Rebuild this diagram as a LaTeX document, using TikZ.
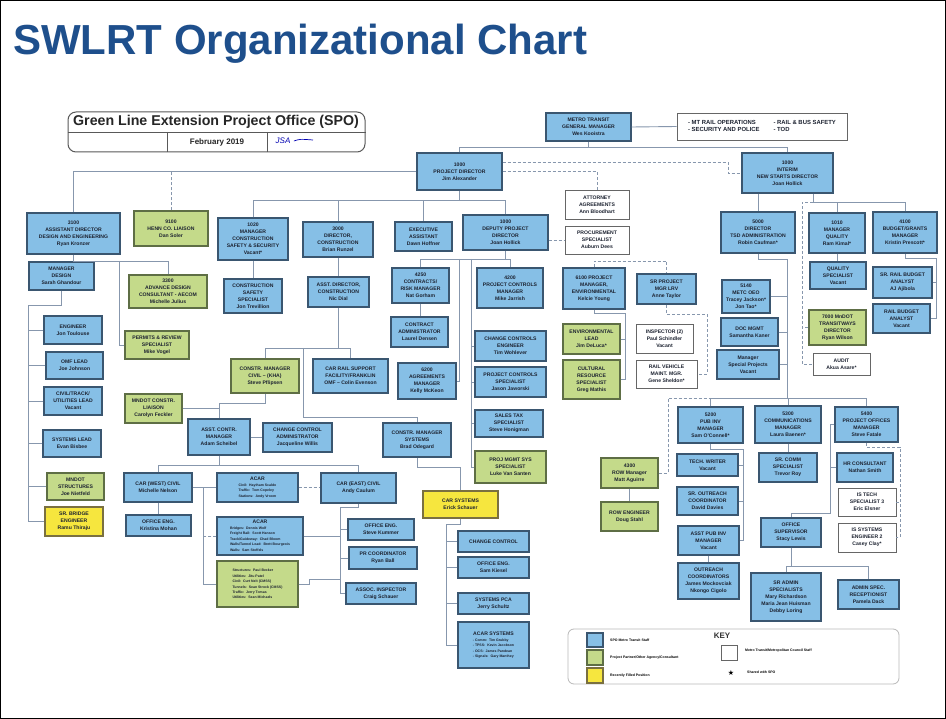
\documentclass[tikz,border=0pt]{standalone}
\usepackage{fontspec}
\setmainfont{Liberation Sans}
\newfontfamily\djv{DejaVu Sans}
\definecolor{blueF}{HTML}{86BFE6}
\definecolor{blueD}{HTML}{3A5670}
\definecolor{greenF}{HTML}{C4DA8A}
\definecolor{greenD}{HTML}{5E6E45}
\definecolor{yellowF}{HTML}{F6E63E}
\definecolor{yellowD}{HTML}{7A7040}
\definecolor{lineC}{HTML}{8797AD}
\definecolor{titleC}{HTML}{1E4F8C}
\definecolor{txtC}{HTML}{1C2230}
\newcommand\boxfont{\fontsize{5.1}{6.9}\selectfont\bfseries}
\newcommand\smallfont{\fontsize{3.5}{4.5}\selectfont\bfseries}
\newcommand\OB[7]{\node[#2, minimum width={(#5-#3)*1pt}, minimum height={(#6-#4)*1pt}] (#1) at ({(#3+#5)/2},{(#4+#6)/2}) {#7};}
\begin{document}
\begin{tikzpicture}[x=1pt,y=-1pt,
  base/.style={align=center, inner sep=0.5pt, font=\boxfont, text=txtC, line width=1.1pt},
  bl/.style={base, fill=blueF, draw=blueD},
  gr/.style={base, fill=greenF, draw=greenD},
  ye/.style={base, fill=yellowF, draw=yellowD},
  wh/.style={base, fill=white, draw=gray!80!black, line width=0.8pt},
  sm/.style={font=\smallfont},
  lnk/.style={draw=lineC, line width=0.9pt},
  dsh/.style={draw=lineC, line width=0.9pt, dash pattern=on 3pt off 2pt}]
\useasboundingbox (0,0) rectangle (946,719);
\fill[white] (0,0) rectangle (946,719);
\draw[black, line width=1pt] (0.5,0.5) rectangle (945.5,718.5);
\node[anchor=base west, font=\fontsize{42}{46}\selectfont\bfseries, text=titleC, inner sep=0] (title) at (13,55) {SWLRT Organizational Chart};

% header box
\node[draw=gray!70!black, line width=1pt, rounded corners=8pt, minimum width=297pt, minimum height=40pt] (hdr) at (216.5,132) {};
\draw[gray!70!black, line width=0.8pt] (hdr.west |- 0,132) -- (hdr.east |- 0,132);
\draw[gray!70!black, line width=0.8pt] (167,132) -- (167,152) (267,132) -- (267,152);
\node[font=\fontsize{14.2}{16}\selectfont\bfseries, text=black!85] (hdrt) at (216,122) {Green Line Extension Project Office (SPO)};
\node[font=\fontsize{8}{9}\selectfont\bfseries, text=black!85] (feb) at (217,142) {February 2019};
\node[font=\fontsize{8}{9}\selectfont\itshape, text=blue!70!black] (sig) at (283,141) {JSA};
\draw[blue!70!black, line width=0.7pt] (sig.east) .. controls (300,139) .. (313,140);

% boxes
\OB{gm}{bl}{546}{113}{631}{141}{METRO TRANSIT\\GENERAL MANAGER\\Wes Kooistra}
\node[wh, minimum width=170pt, minimum height=27pt, font=\fontsize{5.9}{7.2}\selectfont\bfseries] (resp) at (762,126.5) {\begin{tabular}{@{}l@{\hspace{14pt}}l@{}}- MT RAIL OPERATIONS & - RAIL \& BUS SAFETY\\- SECURITY AND POLICE & - TOD\end{tabular}};
\OB{pd}{bl}{417}{153}{502}{190}{1000\\PROJECT DIRECTOR\\Jim Alexander}
\OB{ns}{bl}{742}{153}{833}{193}{1000\\INTERIM\\NEW STARTS DIRECTOR\\Joan Hollick}
\OB{att}{wh}{565}{190}{629}{219}{ATTORNEY\\AGREEMENTS\\Ann Bloodhart}
\OB{proc}{wh}{565}{226}{629}{254}{PROCUREMENT\\SPECIALIST\\Auburn Dees}
\OB{add}{bl}{27}{213}{120}{254}{3100\\ASSISTANT DIRECTOR\\DESIGN AND ENGINEERING\\Ryan Kronzer}
\OB{henn}{gr}{134}{211}{208}{246}{9100\\HENN CO. LIAISON\\Dan Soler}
\OB{mcs}{bl}{218}{218}{288}{260}{1020\\MANAGER\\CONSTRUCTION\\SAFETY \& SECURITY\\Vacant*}
\OB{dc}{bl}{303}{222}{373}{257}{3000\\DIRECTOR,\\CONSTRUCTION\\Brian Runzel}
\OB{ea}{bl}{395}{222}{452}{251}{EXECUTIVE\\ASSISTANT\\Dawn Hoffner}
\OB{dpd}{bl}{463}{215}{548}{250}{1000\\DEPUTY PROJECT\\DIRECTOR\\Joan Hollick}
\OB{md}{bl}{29}{262}{94}{290}{MANAGER\\DESIGN\\Sarah Ghandour}
\OB{adc}{gr}{129}{275}{207}{308}{3300\\ADVANCE DESIGN\\CONSULTANT - AECOM\\Michelle Julius}
\OB{perm}{gr}{125}{331}{189}{359}{PERMITS \& REVIEW\\SPECIALIST\\Mike Vogel}
\OB{css}{bl}{224}{279}{282}{313}{CONSTRUCTION\\SAFETY\\SPECIALIST\\Jon Trevillion}
\OB{adcon}{bl}{308}{277}{369}{307}{ASST. DIRECTOR,\\CONSTRUCTION\\Nic Dial}
\OB{eng}{bl}{44}{316}{102}{344}{ENGINEER\\Jon Toulouse}
\OB{omf}{bl}{46}{352}{103}{379}{OMF LEAD\\Joe Johnson}
\OB{ctu}{bl}{44}{387}{102}{415}{CIVIL/TRACK/\\UTILITIES LEAD\\Vacant}
\OB{sys}{bl}{43}{430}{101}{457}{SYSTEMS LEAD\\Evan Bisbee}
\OB{mnst}{gr}{47}{473}{104}{500}{MNDOT\\STRUCTURES\\Joe Nietfeld}
\OB{srb}{ye}{45}{507}{103}{536}{SR. BRIDGE\\ENGINEER\\Ramu Thiraju}
\OB{cmc}{gr}{231}{359}{299}{393}{CONSTR. MANAGER\\CIVIL -- (KHA)\\Steve Pflipsen}
\OB{crs}{bl}{313}{359}{388}{393}{CAR RAIL SUPPORT\\FACILITY/FRANKLIN\\OMF -- Colin Evenson}
\OB{crm}{bl}{392}{268}{449}{303}{4250\\CONTRACTS/\\RISK MANAGER\\Nat Gorham}
\OB{cadm}{bl}{391}{317}{448}{347}{CONTRACT\\ADMINISTRATOR\\Laurel Densen}
\OB{agr}{bl}{398}{363}{456}{399}{6200\\AGREEMENTS\\MANAGER\\Kelly McKeon}
\OB{pcm}{bl}{477}{268}{543}{308}{4200\\PROJECT CONTROLS\\MANAGER\\Mike Jarrish}
\OB{cce}{bl}{475}{331}{546}{361}{CHANGE CONTROLS\\ENGINEER\\Tim Wohlever}
\OB{pcs}{bl}{475}{367}{546}{397}{PROJECT CONTROLS\\SPECIALIST\\Jason Jaworski}
\OB{stx}{bl}{475}{410}{543}{437}{SALES TAX\\SPECIALIST\\Steve Honigman}
\OB{pms}{gr}{475}{451}{546}{483}{PROJ MGMT SYS\\SPECIALIST\\Luke Van Santen}
\OB{envm}{bl}{563}{268}{625}{309}{6100 PROJECT\\MANAGER,\\ENVIRONMENTAL\\Kelcie Young}
\OB{srpm}{bl}{637}{274}{696}{304}{SR PROJECT\\MGR LRV\\Anne Taylor}
\OB{insp}{wh}{636}{324}{693}{353}{INSPECTOR (2)\\Paul Schindler\\Vacant}
\OB{rvm}{wh}{636}{360}{697}{388}{RAIL VEHICLE\\MAINT. MGR.\\Gene Sheldon*}
\OB{envl}{gr}{563}{324}{620}{354}{ENVIRONMENTAL\\LEAD\\Jim DeLuca*}
\OB{cult}{gr}{563}{360}{620}{399}{CULTURAL\\RESOURCE\\SPECIALIST\\Greg Mathis}
\OB{tsd}{bl}{721}{212}{795}{253}{5000\\DIRECTOR\\TSD ADMINISTRATION\\Robin Caufman*}
\OB{qual}{bl}{809}{213}{865}{253}{1010\\MANAGER\\QUALITY\\Ram Kimal*}
\OB{bud}{bl}{873}{212}{937}{253}{4100\\BUDGET/GRANTS\\MANAGER\\Kristin Prescott*}
\OB{qs}{bl}{810}{262}{866}{289}{QUALITY\\SPECIALIST\\Vacant}
\OB{srba}{bl}{873}{267}{932}{298}{SR. RAIL BUDGET\\ANALYST\\AJ Ajibola}
\OB{rba}{bl}{873}{304}{930}{333}{RAIL BUDGET\\ANALYST\\Vacant}
\OB{mndot}{gr}{809}{310}{866}{345}{7000 MnDOT\\TRANSITWAYS\\DIRECTOR\\Ryan Wilson}
\OB{audit}{wh}{813}{353}{870}{375}{AUDIT\\Akua Asare*}
\OB{oeo}{bl}{722}{280}{770}{313}{5140\\METC OEO\\Tracey Jackson*\\Jon Tao*}
\OB{doc}{bl}{721}{318}{778}{346}{DOC MGMT\\Samantha Kaner}
\OB{msp}{bl}{717}{350}{779}{379}{Manager\\Special Projects\\Vacant}
\OB{pa}{bl}{678}{407}{743}{443}{5200\\PUB INV\\MANAGER\\Sam O'Connell*}
\OB{pb}{bl}{755}{406}{821}{443}{5300\\COMMUNICATIONS\\MANAGER\\Laura Baenen*}
\OB{pc}{bl}{835}{407}{898}{442}{5400\\PROJECT OFFICES\\MANAGER\\Steve Fatale}
\OB{scs}{bl}{759}{453}{817}{482}{SR. COMM\\SPECIALIST\\Trevor Roy}
\OB{hr}{bl}{837}{453}{893}{482}{HR CONSULTANT\\Nathan Smith}
\OB{ist}{wh}{838}{488}{896}{516}{IS TECH\\SPECIALIST 3\\Eric Elsner}
\OB{ise}{wh}{838}{523}{896}{552}{IS SYSTEMS\\ENGINEER 2\\Casey Clay*}
\OB{osup}{bl}{761}{518}{821}{547}{OFFICE\\SUPERVISOR\\Stacy Lewis}
\OB{sra}{bl}{751}{573}{821}{621}{SR ADMIN\\SPECIALISTS\\Mary Richardson\\Maria Jean Huisman\\Debby Loring}
\OB{asr}{bl}{838}{580}{899}{609}{ADMIN SPEC.\\RECEPTIONIST\\Pamela Dack}
\OB{tw}{bl}{677}{454}{738}{476}{TECH. WRITER\\Vacant}
\OB{sro}{bl}{677}{487}{738}{515}{SR. OUTREACH\\COORDINATOR\\David Davies}
\OB{apim}{bl}{678}{526}{739}{555}{ASST PUB INV\\MANAGER\\Vacant}
\OB{oc}{bl}{678}{563}{739}{599}{OUTREACH\\COORDINATORS\\James Mockovciak\\Nkongo Cigolo}
\OB{row}{gr}{601}{458}{658}{488}{4300\\ROW Manager\\Matt Aguirre}
\OB{rowe}{gr}{601}{502}{658}{531}{ROW ENGINEER\\Doug Stahl}
\OB{mcl}{gr}{125}{394}{182}{423}{MNDOT CONSTR.\\LIAISON\\Carolyn Feckler}
\OB{acm}{bl}{188}{419}{250}{455}{ASST. CONTR.\\MANAGER\\Adam Scheibel}
\OB{cca}{bl}{263}{423}{332}{452}{CHANGE CONTROL\\ADMINISTRATOR\\Jacqueline Willis}
\OB{cms}{bl}{383}{423}{451}{457}{CONSTR. MANAGER\\SYSTEMS\\Brad Odegard}
\OB{carw}{bl}{124}{473}{192}{502}{CAR (WEST) CIVIL\\Michelle Nelson}
\OB{acara}{bl}{217}{473}{298}{502}{\begin{tabular}{@{}l@{}}\multicolumn{1}{@{}c@{}}{\boxfont ACAR}\\[-1pt]\smallfont Civil:\ \ Haytham Scaldo\\[-1.5pt]\smallfont Traffic:\ \ Tom Copeley\\[-1.5pt]\smallfont Stations:\ \ Andy Vroom\end{tabular}}
\OB{care}{bl}{321}{473}{396}{503}{CAR (EAST) CIVIL\\Andy Caulum}
\OB{oek}{bl}{126}{515}{191}{536}{OFFICE ENG.\\Kristina Mohan}
\OB{acarb}{bl}{217}{517}{303}{555}{\begin{tabular}{@{}l@{}}\multicolumn{1}{@{}c@{}}{\boxfont ACAR}\\[-1pt]\smallfont Bridges:\ \ Dennis Wolf\\[-1.5pt]\smallfont Freight Rail:\ \ Scott Hanson\\[-1.5pt]\smallfont Track/Guideway:\ \ Chad Bloom\\[-1.5pt]\smallfont Walls/Tunnel Lead:\ \ Brett Bourgeois\\[-1.5pt]\smallfont Walls:\ \ Sam Stoffels\end{tabular}}
\OB{acarc}{gr}{217}{561}{298}{607}{\begin{tabular}{@{}l@{}}\smallfont Structures:\ \ Paul Becker\\[-1.5pt]\smallfont Utilities:\ \ Jitu Patel\\[-1.5pt]\smallfont Civil:\ \ Curt Nelt (CMSS)\\[-1.5pt]\smallfont Tunnels:\ \ Sean Strock (CMSS)\\[-1.5pt]\smallfont Traffic:\ \ Jerry Tomas\\[-1.5pt]\smallfont Utilities:\ \ Sean Michaels\end{tabular}}
\OB{oes}{bl}{348}{519}{414}{540}{OFFICE ENG.\\Steve Kummer}
\OB{prc}{bl}{349}{547}{417}{569}{PR COORDINATOR\\Ryan Ball}
\OB{ain}{bl}{346}{583}{416}{604}{ASSOC. INSPECTOR\\Craig Schauer}
\OB{cars}{ye}{423}{491}{498}{518}{CAR SYSTEMS\\Erick Schauer}
\OB{chc}{bl}{458}{531}{529}{552}{CHANGE CONTROL}
\OB{oesk}{bl}{458}{557}{529}{578}{OFFICE ENG.\\Sam Kiesel}
\OB{spca}{bl}{458}{593}{529}{614}{SYSTEMS PCA\\Jerry Schultz}
\OB{acs}{bl}{458}{622}{529}{668}{\begin{tabular}{@{}l@{}}\multicolumn{1}{@{}c@{}}{\boxfont ACAR SYSTEMS}\\[-1pt]\smallfont - Comm:\ \ Tim Grubby\\[-1.5pt]\smallfont - TPSS:\ \ Kevin Jacobson\\[-1.5pt]\smallfont - OCS:\ \ James Pandean\\[-1.5pt]\smallfont - Signals:\ \ Gary Manthey\end{tabular}}

% connectors
\draw[lnk] (gm.east) -- (resp.west);
\draw[lnk] (gm.south) -- (gm.south |- 0,147);
\draw[lnk] (pd.north) |- (ns.north |- 0,147) -- (ns.north);
\draw[lnk] (pd.west) -| (add.north);
\draw[dsh] (henn.north) -- (henn.north |- pd.west);
\draw[dsh] (pd.east) -| (att.north);
\draw[dsh] (pd.east |- 0,162) -- (728,162) |- (ns.west);
\draw[lnk] (pd.south) -- (pd.south |- 0,200);
\draw[lnk] (mcs.north) |- (dpd.north |- 0,200) -- (dpd.north);
\draw[lnk] (dc.north) -- (dc.north |- 0,200);
\draw[lnk] (ea.north) -- (ea.north |- 0,200);
\draw[dsh] (dpd.east |- proc.west) -- (proc.west);
\draw[lnk] (dpd.south) -- (dpd.south |- 0,259);
\draw[lnk] (crm.north) |- (pcm.north |- 0,259) -- (pcm.north);
\draw[lnk] (459,259) |- (agr.east);
\draw[lnk] (crm.south) -- (crm.south |- cadm.north);
\draw[lnk] (471,259) |- (pms.west);
\foreach \n in {cce,pcs,stx} \draw[lnk] (\n.west) -- (\n.west -| 471,0);
\draw[dsh] (envm.north) -- (envm.north |- 0,261) -| (srpm.north);
\draw[lnk] (envm.south) -- (envm.south |- 0,313) -| (625,379.5) -- (cult.east);
\draw[lnk] (envl.east) -- (envl.east -| 625,0);
\draw[dsh] (srpm.south) -- (srpm.south |- 0,314) -| (707,374) -- (rvm.east);
\draw[lnk] (ns.south -| tsd.north) -- (tsd.north);
\draw[lnk] (ns.south -| 813,0) -- (813,202) -- (905,202);
\draw[lnk] (qual.north) -- (qual.north |- 0,202);
\draw[lnk] (bud.north) -- (bud.north |- 0,202);
\draw[dsh] (813,202) -- (802,202) |- (audit.west);
\draw[dsh] (mndot.west) -- (mndot.west -| 802,0);
\draw[lnk] (qual.south) -- (qual.south |- qs.north);
\draw[lnk] (bud.south) -- (bud.south |- 0,258) -| (936,318.5) -- (rba.east);
\draw[lnk] (srba.east) -- (srba.east -| 936,0);
\draw[lnk] (tsd.south) -- (tsd.south |- 0,259) -| (787,398);
\foreach \n in {oeo,doc,msp} \draw[lnk] (\n.east) -- (\n.east -| 787,0);
\draw[lnk] (pa.north) |- (pc.north |- 0,398) -- (pc.north);
\draw[lnk] (pb.north) -- (pb.north |- 0,398);
\draw[dsh] (row.east) -| (668,398) -- (pa.north |- 0,398);
\draw[lnk] (pb.south) -- (pb.south |- scs.north);
\draw[dsh] (pc.south) -- (pc.south |- 0,447) -| (900,537.5) -- (ise.east);
\draw[dsh] (ist.east) -- (ist.east -| 900,0);
\draw[lnk] (pc.west) -| (830,513) -| (osup.north);
\draw[lnk] (hr.west) -- (hr.west -| 830,0);
\draw[lnk] (osup.south) -- (osup.south |- 0,566);
\draw[lnk] (sra.north) |- (asr.north |- 0,566) -- (asr.north);
\draw[lnk] (pa.south) -- (pa.south |- 0,449) -| (743,540.5) -- (apim.east);
\foreach \n in {tw,sro} \draw[lnk] (\n.east) -- (\n.east -| 743,0);
\draw[lnk] (apim.south) -- (apim.south |- oc.north);
\draw[lnk] (row.south) -- (row.south |- rowe.north);
\draw[lnk] (add.south) -- (add.south |- 0,261) -| (adc.north);
\draw[lnk] (119,261) |- (perm.west);
\draw[lnk] (md.south) -- (md.south |- 0,305) -| (28,521.5) -- (srb.west);
\foreach \n in {eng,omf,ctu,sys,mnst} \draw[lnk] (\n.west) -- (\n.west -| 28,0);
\draw[lnk] (mcs.south) -- (mcs.south |- css.north);
\draw[lnk] (dc.south) -- (dc.south |- adcon.north);
\draw[lnk] (adcon.south) -- (adcon.south |- 0,348);
\draw[lnk] (cmc.north) |- (crs.north |- 0,348) -- (crs.north);
\draw[lnk] (303,348) |- (cms.north |- 0,417) -- (cms.north);
\draw[lnk] (cmc.south) -- (cmc.south |- 0,403) -| (acm.north);
\draw[lnk] (mcl.east) -- (mcl.east -| acm.north);
\draw[lnk] (acm.east) -- (acm.east -| cca.west);
\draw[lnk] (acm.south) -- (acm.south |- 0,465);
\draw[lnk] (carw.north) |- (care.north |- 0,465) -- (care.north);
\draw[lnk] (carw.east) -- (acara.west);
\draw[dsh] (acara.east) -- (acara.east -| care.west);
\draw[lnk] (carw.south) -- (carw.south |- oek.north);
\draw[lnk] (203,487.5) |- (acarc.west);
\draw[dsh] (acarb.west) -- (acarb.west -| 203,0);
\draw[lnk] (care.south) -- (care.south |- 0,507) -| (340,593.5) -- (ain.west);
\foreach \n in {oes,prc} \draw[lnk] (\n.west) -- (\n.west -| 340,0);
\draw[lnk] (acarb.east) -- (acarb.east -| 340,0);
\draw[lnk] (acarc.east) -| (309,579) -- (340,579);
\draw[lnk] (cms.south) -- (cms.south |- 0,467) -| (cars.north);
\draw[lnk] (cars.south) -- (cars.south |- 0,524) -| (446,645) -- (acs.west);
\foreach \n in {chc,oesk,spca} \draw[lnk] (\n.west) -- (\n.west -| 446,0);

% key
\node[draw=gray!55, line width=0.8pt, rounded corners=6pt, minimum width=331pt, minimum height=55pt] (key) at (733.5,656.5) {};
\OB{ksb}{bl}{587}{633}{603}{647}{}
\OB{ksg}{gr}{587}{650}{603}{665}{}
\OB{ksy}{ye}{587}{668}{603}{683}{}
\OB{ksw}{wh}{721}{645}{737}{660}{}
\node[anchor=west, sm, inner sep=0] (kl1) at (610,640) {SPO Metro Transit Staff};
\node[anchor=west, sm, inner sep=0] (kl2) at (610,657.5) {Project Partner/Other Agency/Consultant};
\node[anchor=west, sm, inner sep=0] (kl3) at (610,675.5) {Recently Filled Position};
\node[font=\fontsize{8}{9}\selectfont\bfseries, text=black!80] (keyt) at (722,636) {KEY};
\node[anchor=west, sm, inner sep=0] (kl4) at (745,651) {Metro Transit/Metropolitan Council Staff};
\node[font=\djv\fontsize{7}{8}\selectfont] (star) at (731,673) {★};
\node[anchor=west, sm, inner sep=0] (kl5) at (747,672) {Shared with SPO};
\end{tikzpicture}
\end{document}
